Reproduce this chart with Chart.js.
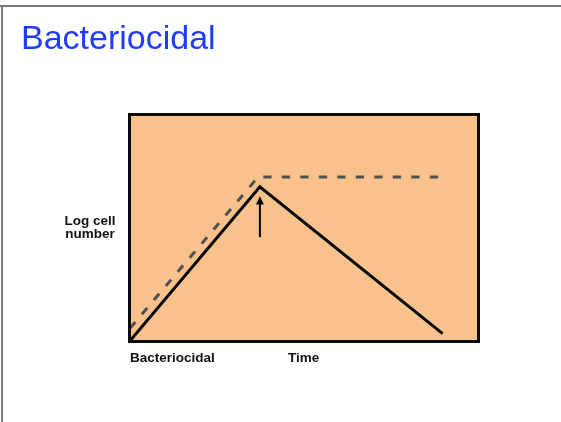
<!DOCTYPE html>
<html><head><meta charset="utf-8">
<script src="https://cdn.jsdelivr.net/npm/chart.js@4"></script>
<style>
html,body{margin:0;padding:0;background:#fff;}
#wrap{position:relative;width:561px;height:422px;overflow:hidden;background:#fff;}
#frameTop{position:absolute;left:0;top:5px;width:561px;height:2px;background:#7a7a7a;}
#frameLeft{position:absolute;left:1px;top:5px;width:2px;height:417px;background:#7a7a7a;}
canvas{position:absolute;left:0;top:0;}
.t{position:absolute;font-family:"Liberation Sans",Arial,Helvetica,sans-serif;white-space:nowrap;}
#title{left:21px;top:20px;font-size:34px;line-height:34px;color:#1f3cfb;}
.lab{font-weight:bold;font-size:13.5px;line-height:13.5px;color:#111;}
</style>
</head><body>
<div id="wrap">
  <div id="frameTop"></div>
  <div id="frameLeft"></div>
  <canvas id="c" width="561" height="422"></canvas>
  <div class="t" id="title">Bacteriocidal</div>
  <div class="t lab" style="left:40px;width:100px;text-align:center;top:214px;">Log cell</div>
  <div class="t lab" style="left:40px;width:100px;text-align:center;top:227px;">number</div>
  <div class="t lab" style="left:130px;top:350.5px;">Bacteriocidal</div>
  <div class="t lab" style="left:288px;top:350.5px;">Time</div>
</div>
<script>
// Data (time units 0-100, log cell number units 0-100)
const timeSolid = [0, 37.4, 89.6];
const logSolid = [0, 68.1, 3.7];
const timeDashed = [0, 36.9, 88.3];
const logDashed = [5.5, 72.4, 72.4];
const arrowTime = [37.4, 37.4];
const arrowLog = [46.0, 61.0];
const arrowTipLog = 63.9;

const pts = (xs, ys) => xs.map((x, i) => ({x: x, y: ys[i]}));

const areaPlugin = {
  id: 'area',
  beforeDatasetsDraw(chart) {
    const a = chart.chartArea, ctx = chart.ctx;
    ctx.save();
    ctx.fillStyle = '#f9c28d';
    ctx.fillRect(a.left, a.top, a.right - a.left, a.bottom - a.top);
    ctx.restore();
  },
  afterDatasetsDraw(chart) {
    const a = chart.chartArea, ctx = chart.ctx;
    const xs = chart.scales.x, ys = chart.scales.y;
    ctx.save();
    // arrow head
    const px = xs.getPixelForValue(arrowTime[1]);
    const tip = ys.getPixelForValue(arrowTipLog);
    const base = ys.getPixelForValue(arrowLog[1]) + 1.5;
    ctx.fillStyle = '#000';
    ctx.beginPath();
    ctx.moveTo(px, tip);
    ctx.lineTo(px - 4, base);
    ctx.lineTo(px + 4, base);
    ctx.closePath();
    ctx.fill();
    // frame
    ctx.strokeStyle = '#0a0a0a';
    ctx.lineWidth = 3;
    ctx.strokeRect(a.left + 0.5, a.top + 0.5, a.right - a.left - 1, a.bottom - a.top - 1);
    ctx.restore();
  }
};

new Chart(document.getElementById('c'), {
  type: 'line',
  data: {
    datasets: [
      {data: pts(timeDashed, logDashed), borderColor: '#505050', borderWidth: 3, borderDash: [8.3, 10.2], borderDashOffset: 17, pointRadius: 0, tension: 0},
      {data: pts(timeSolid, logSolid), borderColor: '#000000', borderWidth: 3, pointRadius: 0, tension: 0},
      {data: pts(arrowTime, arrowLog), borderColor: '#000000', borderWidth: 2, pointRadius: 0, tension: 0}
    ]
  },
  options: {
    responsive: false,
    animation: false,
    devicePixelRatio: 1,
    layout: {padding: {left: 129, right: 82, top: 114, bottom: 80}},
    plugins: {legend: {display: false}, tooltip: {enabled: false}, title: {display: false}},
    scales: {
      x: {type: 'linear', min: 0, max: 100, display: false},
      y: {type: 'linear', min: 0, max: 100, display: false}
    }
  },
  plugins: [areaPlugin]
});
</script>
</body></html>
